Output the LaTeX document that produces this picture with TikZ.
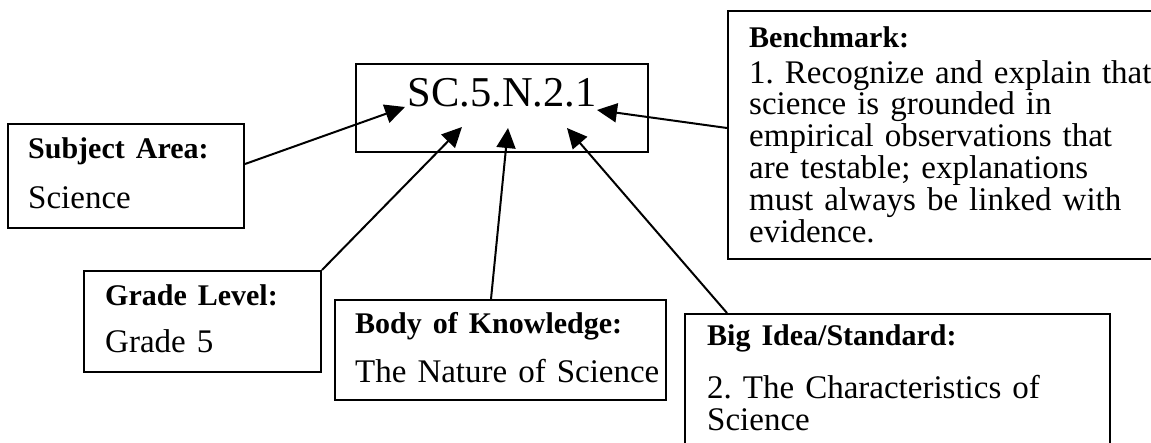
\documentclass[tikz,border=0pt]{standalone}
\usepackage{fontspec}
\setmainfont{Liberation Serif}
\usetikzlibrary{arrows.meta}
\newcommand{\boxhead}[1]{{\bfseries\fontsize{30}{31.8}\selectfont #1}}
\frenchspacing

\begin{document}
\begin{tikzpicture}[x=1pt,y=-1pt]
\tikzstyle{code}=[rectangle, draw=black, line width=2pt, inner sep=0pt, anchor=north west, font=\fontsize{42.5}{42.5}\selectfont]
\tikzstyle{box}=[rectangle, draw=black, line width=2pt, inner sep=0pt, anchor=north west]
\tikzstyle{txt}=[inner sep=0pt, anchor=base west, align=left, text width=420pt, font=\fontsize{33}{31.8}\selectfont]
\tikzstyle{connect}=[-{Triangle[length=20pt,width=19pt]}, line width=2pt]

\clip (0,0) rectangle (1151,442);

	\node[code] (sc) at (355,63) [minimum width=292pt, text height=42pt, text depth=46pt]{SC.5.N.2.1};

	% boxes
	\node[box] (subj) at (7,123) [minimum width=236pt, minimum height=104pt]{};
	\node[box] (grade) at (83,270) [minimum width=237pt, minimum height=101pt]{};
	\node[box] (body) at (334,299) [minimum width=331pt, minimum height=100pt]{};
	\node[box] (big) at (684,313) [minimum width=425pt, minimum height=140pt]{};
	\node[box] (bench) at (727,10) [minimum width=450pt, minimum height=248pt]{};

	% texts, placed on the baseline of their first line
	\node[txt] (subjtext) at (28,158) {\boxhead{Subject Area:}\\[18.2pt]Science};
	\node[txt] (gradetext) at (105,305) {\boxhead{Grade Level:}\\[15.2pt]Grade 5};
	\node[txt] (bodytext) at (355,333) {\boxhead{Body of Knowledge:}\\[17.2pt]The Nature of Science};
	\node[txt] (bigtext) at (707,345) {\boxhead{Big Idea/Standard:}\\[22pt]2. The Characteristics of\\Science};
	\node[txt] (benchtext) at (749,47) {\boxhead{Benchmark:}\\[4.2pt]1. Recognize and explain that\\science is grounded in\\empirical observations that\\are testable; explanations\\must always be linked with\\evidence.};

	% arrow heads end inside the code box
	\coordinate (tipsubj) at (405,107);
	\coordinate (tipgrade) at (462,127);
	\coordinate (tipbody) at (508,128);
	\coordinate (tipbig) at (567,128);
	\coordinate (tipbench) at (597,110);

	\path
		([yshift=12pt]subj.east) edge [connect] (tipsubj)
		(grade.north east) edge [connect] (tipgrade)
		([xshift=-9.5pt]body.north) edge [connect] (tipbody)
		([xshift=43pt]big.north west) edge [connect] (tipbig)
		([yshift=7pt]bench.west) edge [connect] (tipbench);

\end{tikzpicture}
\end{document}
